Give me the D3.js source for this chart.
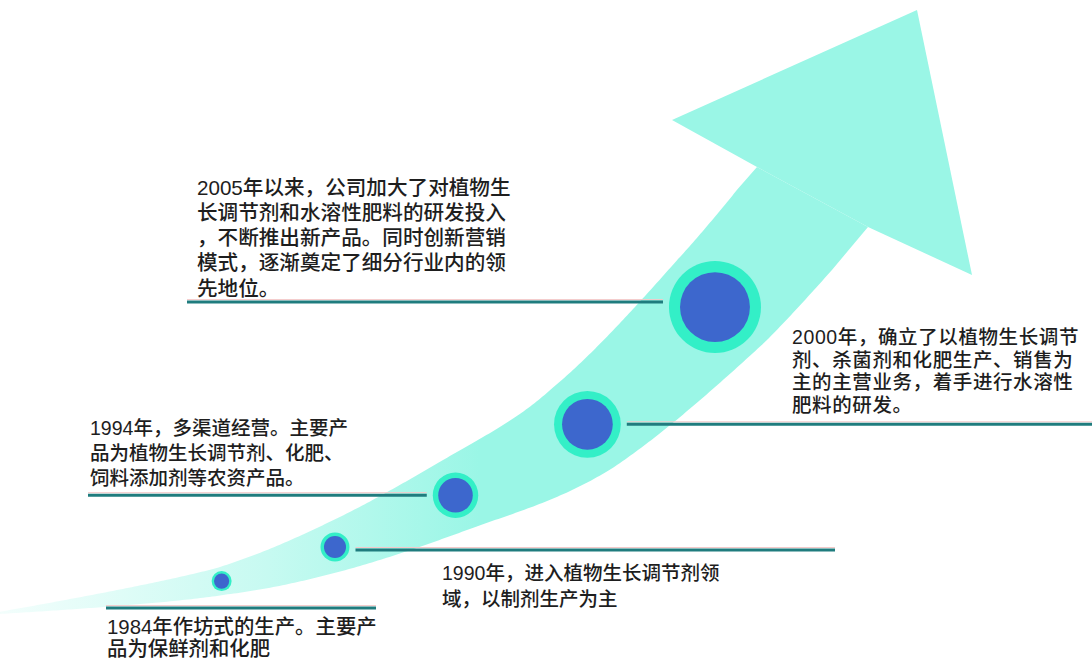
<!DOCTYPE html>
<meta charset="utf-8">
<script src="https://d3js.org/d3.v7.min.js"></script>
<style>
  body { margin: 0; background: #fff; }
  svg text { font-family: "Liberation Sans", "Noto Sans CJK SC", sans-serif; fill: #1e1e1e; font-weight: 500; }
</style>
<svg id="my_dataviz" width="1092" height="660"></svg>
<script>

// Milestones
var years = [1984, 1990, 1994, 2000, 2005]
var notes = [
  ["1984年作坊式的生产。主要产", "品为保鲜剂和化肥"],
  ["1990年，进入植物生长调节剂领", "域，以制剂生产为主"],
  ["1994年，多渠道经营。主要产", "品为植物生长调节剂、化肥、", "饲料添加剂等农资产品。"],
  ["2000年，确立了以植物生长调节", "剂、杀菌剂和化肥生产、销售为", "主的主营业务，着手进行水溶性", "肥料的研发。"],
  ["2005年以来，公司加大了对植物生", "长调节剂和水溶性肥料的研发投入", "，不断推出新产品。同时创新营销", "模式，逐渐奠定了细分行业内的领", "先地位。"]
]

// label layout for each milestone
var labels = [
  {side: "under", x0: 106, x1: 376, dy: 27, tx: 107, place: "below", gap: 18, fs: 20.4, lh: 22.5, ls: 0},
  {side: "right", x1: 835, dy: 3, tx: 442, place: "below", gap: 23, fs: 19.5, lh: 26, ls: 0},
  {side: "left",  x0: 88,  dy: 0, tx: 90,  place: "above", gap: 17, fs: 19.5, lh: 25, ls: 0},
  {side: "right", x1: 1092, dy: 0, tx: 792, place: "above", gap: 20, fs: 19.5, lh: 22.5, ls: 0.6},
  {side: "left",  x0: 187, dy: -5, tx: 197, place: "above", gap: 14, fs: 20.6, lh: 25.3, ls: 0}
]

var svg = d3.select("svg"),
    width = +svg.attr("width"),
    height = +svg.attr("height");

var defs = svg.append("defs")
var grad = defs.append("linearGradient")
    .attr("id", "fade")
    .attr("gradientUnits", "userSpaceOnUse")
    .attr("x1", 0).attr("y1", 0).attr("x2", 480).attr("y2", 0)
grad.append("stop").attr("offset", 0).attr("stop-color", "#9af6e6").attr("stop-opacity", 0.12)
grad.append("stop").attr("offset", 0.55).attr("stop-color", "#9af6e6").attr("stop-opacity", 0.55)
grad.append("stop").attr("offset", 1).attr("stop-color", "#9af6e6").attr("stop-opacity", 1)

// centre line of the growth arrow
var spine = [[-10, 614], [222, 581], [335, 547], [458, 494], [574, 434], [720, 302], [812, 197]]
var spinePath = svg.append("path")
    .attr("d", d3.line().curve(d3.curveCatmullRom.alpha(0.5))(spine))
    .attr("fill", "none")
    .attr("stroke", "none")
var node = spinePath.node()
var total = node.getTotalLength()

// half width of the shaft along its length
var halfWidth = d3.scaleLinear()
    .domain([0, 234, 352, 486, 627, 814, total])
    .range([0.5, 14, 25, 37, 50, 60, 63])
    .clamp(true)

// arrow head: base notches, barbs, tip
var head = [[757, 167], [672, 120], [917, 10], [972, 275], [868, 227]]

var upper = [], lower = []
for (var s = 0; s <= total - 40; s += 3) {
  var a = node.getPointAtLength(Math.max(0, s - 1)),
      b = node.getPointAtLength(Math.min(total, s + 1)),
      p = node.getPointAtLength(s)
  var dx = b.x - a.x, dy = b.y - a.y, len = Math.hypot(dx, dy)
  var nx = dy / len, ny = -dx / len
  var h = halfWidth(s)
  upper.push([p.x + nx * h, p.y + ny * h])
  lower.push([p.x - nx * h, p.y - ny * h])
}
upper.push(head[0])
lower.push(head[4])
svg.append("path")
    .attr("d", d3.line()(upper.concat(lower.reverse())) + "Z")
    .attr("fill", "url(#fade)")

svg.append("path")
    .attr("d", d3.line()(head) + "Z")
    .attr("fill", "#9af6e6")

// circle size grows with each stage, spaced along the spine
var radius = d3.scalePow().exponent(1.5).domain([0, years.length - 1]).range([10, 46])
var spacing = 94
var nodes = []
var pos = 234
years.forEach(function(y, i) {
  if (i > 0) pos += radius(i - 1) + spacing + radius(i)
  var p = node.getPointAtLength(pos)
  nodes.push({year: y, note: notes[i], lab: labels[i], r: radius(i), cx: p.x, cy: p.y})
})

// connector lines
nodes.forEach(function(d) {
  var L = d.lab, x0, x1, y = d.cy + L.dy
  if (L.side == "left") { x0 = L.x0; x1 = d.cx - d.r - 6 }
  else if (L.side == "right") { x0 = d.cx + d.r + 6; x1 = L.x1 }
  else { x0 = L.x0; x1 = L.x1 }
  d.lineY = y
  svg.append("line")
      .attr("x1", x0).attr("x2", x1).attr("y1", y - 2.5).attr("y2", y - 2.5)
      .attr("stroke", "#f3c9c9").attr("stroke-width", 1)
  svg.append("line")
      .attr("x1", x0).attr("x2", x1).attr("y1", y).attr("y2", y)
      .attr("stroke", "#1f7c7e").attr("stroke-width", 3)
})

// circles
svg.selectAll("circle.ring")
  .data(nodes)
  .enter()
  .append("circle")
    .attr("class", "ring")
    .attr("cx", function(d){ return d.cx })
    .attr("cy", function(d){ return d.cy })
    .attr("r", function(d){ return d.r })
    .attr("fill", "#33efc7")
svg.selectAll("circle.dot")
  .data(nodes)
  .enter()
  .append("circle")
    .attr("class", "dot")
    .attr("cx", function(d){ return d.cx })
    .attr("cy", function(d){ return d.cy })
    .attr("r", function(d){ return d.r * 0.76 })
    .attr("fill", "#3d67cd")

// text blocks, one text per line
nodes.forEach(function(d) {
  var L = d.lab, n = d.note.length
  d.note.forEach(function(line, k) {
    var c = L.place == "above"
      ? d.lineY - L.gap - (n - 1 - k) * L.lh
      : d.lineY + L.gap + k * L.lh
    svg.append("text")
        .attr("x", L.tx)
        .attr("y", c + 0.37 * L.fs)
        .style("font-size", L.fs + "px")
        .style("letter-spacing", L.ls + "px")
        .text(line)
  })
})

</script>
